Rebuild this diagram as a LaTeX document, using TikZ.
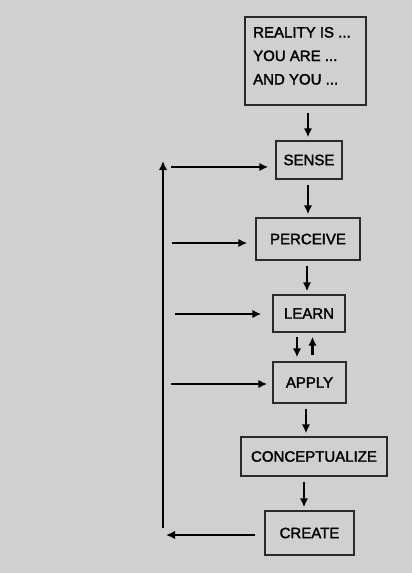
\documentclass[tikz,border=0pt]{standalone}
\usepackage{fontspec}
\setmainfont{Liberation Sans}
\newfontfamily\labelfont[FakeBold=2]{Liberation Sans}
\usetikzlibrary{arrows.meta}
\definecolor{paper}{HTML}{D0D0D0}
\definecolor{edge}{HTML}{2A2A2A}
\tikzset{
  box/.style={draw=edge, line width=1.4pt, inner sep=0pt, font=\labelfont\fontsize{15}{18}\selectfont},
  flow/.style={-{Latex[length=9pt,width=8.5pt]}, line width=2.8pt, shorten <=5pt, shorten >=3pt},
  topline/.style={anchor=base west, inner sep=0pt, font=\labelfont\fontsize{15}{18}\selectfont}
}
\begin{document}
\begin{tikzpicture}[x=1pt,y=-1pt]
  % fondo
  \fill[paper] (0,0) rectangle (412,573);
  \useasboundingbox (0,0) rectangle (412,573);

  % riquadri
  \node[box, minimum width=121, minimum height=88] (top) at (305.5,61) {};
  \node[topline] (line1) at (253,37.5) {REALITY IS ...};
  \node[topline] (line2) at (253,61) {YOU ARE ...};
  \node[topline] (line3) at (253,84.5) {AND YOU ...};
  \node[box, minimum width=66, minimum height=38] (sense) at (309,160) {SENSE};
  \node[box, minimum width=104, minimum height=42] (perceive) at (308,239) {PERCEIVE};
  \node[box, minimum width=72, minimum height=37] (learn) at (309,313.5) {LEARN};
  \node[box, minimum width=73, minimum height=41] (apply) at (309.5,382.5) {APPLY};
  \node[box, minimum width=146, minimum height=39] (concept) at (314,456.5) {CONCEPTUALIZE};
  \node[box, minimum width=89, minimum height=44] (create) at (309.5,533) {CREATE};

  % frecce verticali
  \draw[flow, shorten <=7pt] ([xshift=2.5pt]top.south) -- ([xshift=2.5pt]top.south |- sense.north);
  \draw[flow] ([xshift=-1pt]sense.south) -- ([xshift=-1pt]sense.south |- perceive.north);
  \draw[flow] ([xshift=-1pt]perceive.south) -- ([xshift=-1pt]perceive.south |- learn.north);
  \draw[flow, shorten <=4pt, shorten >=4pt] ([xshift=-12pt]learn.south) -- ([xshift=-12pt]learn.south |- apply.north);
  \draw[flow, shorten <=6pt, shorten >=4pt] ([xshift=3pt]apply.north) -- ([xshift=3pt]apply.north |- learn.south);
  \draw[flow] ([xshift=-3.5pt]apply.south) -- ([xshift=-3.5pt]apply.south |- concept.north);
  \draw[flow] ([xshift=-10pt]concept.south) -- ([xshift=-10pt]concept.south |- create.north);

  % frecce da sinistra
  \coordinate (in1) at (171,167);
  \coordinate (in2) at (172,243);
  \coordinate (in3) at (175,314);
  \coordinate (in4) at (171,384);
  \draw[flow, shorten <=0pt, shorten >=7pt] (in1) -- (in1 -| sense.west);
  \draw[flow, shorten <=0pt, shorten >=8pt] (in2) -- (in2 -| perceive.west);
  \draw[flow, shorten <=0pt, shorten >=11pt] (in3) -- (in3 -| learn.west);
  \draw[flow, shorten <=0pt, shorten >=5pt] (in4) -- (in4 -| apply.west);

  % anello di ritorno
  \coordinate (back) at (166,535);
  \coordinate (loopbot) at (163,528);
  \coordinate (looptop) at (163,161);
  \draw[flow, shorten <=9pt, shorten >=0pt] (create.west |- back) -- (back);
  \draw[flow, shorten <=0pt, shorten >=0pt] (loopbot) -- (looptop);
\end{tikzpicture}
\end{document}
